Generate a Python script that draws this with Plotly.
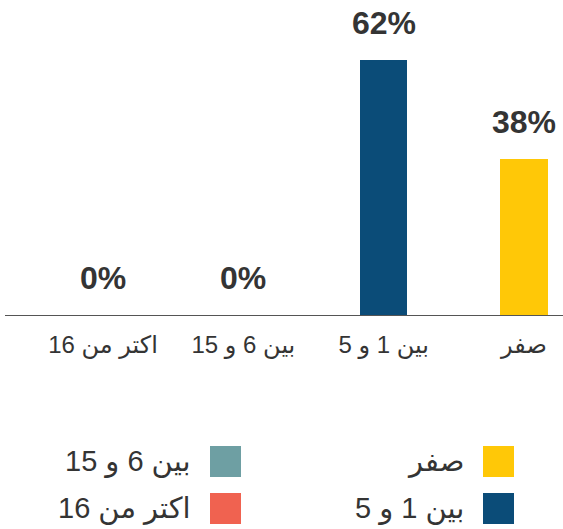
import plotly.graph_objects as go

categories = ["صفر", "بين 1 و 5", "بين 6 و 15", "اكتر من 16"]
values = [38, 62, 0, 0]
colors = ["#FFC807", "#0B4C78", "#6E9FA3", "#F06250"]
value_labels = [f"{v}%" for v in values]

W, H = 563, 529
ML, MR, MT, MB = 5, 0, 3, 214
PW, PH = W - ML - MR, H - MT - MB

FONT = "Liberation Sans, Arial, DejaVu Sans, sans-serif"
TXT = "#343434"


def px_x(px):
    return (px - ML) / PW


def px_y(py):
    return (H - MB - py) / PH


fig = go.Figure()
fig.add_trace(go.Bar(
    x=categories, y=values, marker=dict(color=colors, line=dict(width=0)),
    width=0.335, showlegend=False, hoverinfo="skip",
))

for c, v, t in zip(categories, values, value_labels):
    fig.add_annotation(x=c, y=v, text=f"<b>{t}</b>", showarrow=False,
                       xanchor="center", yanchor="bottom", yshift=17,
                       font=dict(family=FONT, size=32, color=TXT))

# custom right-to-left legend (swatch on the right of its label)
legend_cols = [483, 210]
legend_rows = [446, 493]
sw = 31
for i, (c, col) in enumerate(zip(categories, colors)):
    cx = legend_cols[i // 2]
    ry = legend_rows[i % 2]
    fig.add_shape(type="rect", xref="paper", yref="paper",
                  x0=px_x(cx), x1=px_x(cx + sw), y0=px_y(ry + sw), y1=px_y(ry),
                  fillcolor=col, line=dict(width=0))
    fig.add_annotation(xref="paper", yref="paper", x=px_x(cx - 17),
                       y=px_y(ry + sw / 2), text=c, showarrow=False,
                       xanchor="right", yanchor="middle",
                       font=dict(family=FONT, size=29, color=TXT))

fig.update_layout(
    width=W, height=H,
    margin=dict(l=ML, r=MR, t=MT, b=MB),
    plot_bgcolor="white", paper_bgcolor="white",
    bargap=0,
    xaxis=dict(type="category", range=[3.699, -0.278], showgrid=False,
               showline=True, linecolor="#555555", linewidth=1, ticks="",
               tickfont=dict(family=FONT, size=24, color=TXT),
               ticklabelstandoff=8,
               zeroline=False, fixedrange=True),
    yaxis=dict(range=[0, 75.9], visible=False, showgrid=False,
               zeroline=False, fixedrange=True),
    showlegend=False,
)

fig.write_html("out.html", config={"displayModeBar": False},
               post_script="document.body.style.margin='0px';")
